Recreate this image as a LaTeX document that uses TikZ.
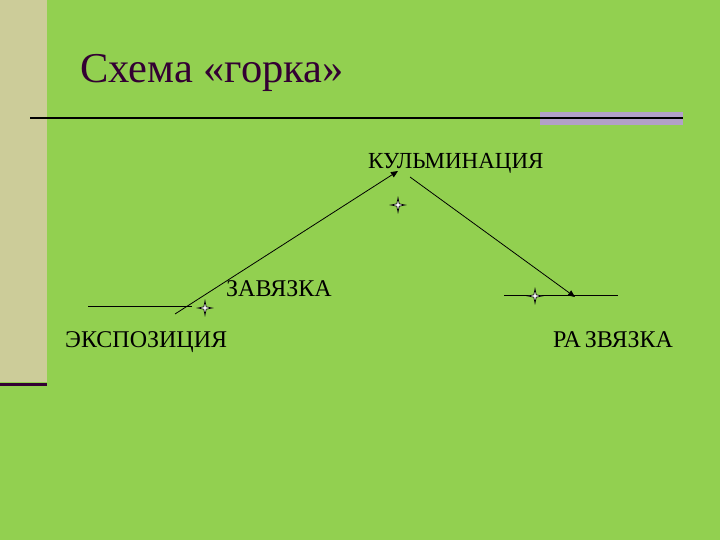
\documentclass[tikz,border=0pt]{standalone}
\usepackage{fontspec}
\setmainfont{Liberation Serif}
\usetikzlibrary{arrows.meta,shapes.geometric}
\definecolor{slidegreen}{HTML}{92D050}
\definecolor{stripbeige}{HTML}{CCCC99}
\definecolor{darkplum}{HTML}{330033}
\definecolor{barlilac}{HTML}{B2A1C7}
\tikzset{
	labl/.style={anchor=base west,inner sep=0pt,font=\rmfamily\fontsize{24}{24}\selectfont},
	ttl/.style={anchor=base west,inner sep=0pt,text=darkplum,font=\rmfamily\fontsize{42.5}{42.5}\selectfont},
	spark/.style={star,star points=4,star point height=5.5pt,minimum size=0pt,inner sep=1.2pt,fill=white,draw=black,line width=0.7pt},
	flat/.style={line width=0.8pt},
	slope/.style={line width=0.8pt,-{Triangle[length=7pt,width=6pt]}},
	>=stealth,
	}

\begin{document}
\begin{tikzpicture}[x=1pt,y=-1pt]
 \fill[slidegreen] (0,0) rectangle (720,540);
 \useasboundingbox (0,0) rectangle (720,540);
 \fill[stripbeige] (0,0) rectangle (47,382);
 \draw[darkplum,line width=3pt] (0,384) -- (47,384);
 \fill[barlilac] (540,112) rectangle (683,125);
 \draw[line width=1.5pt] (30,118) -- (683,118);

\node (title) at (80,83) [ttl] {Схема «горка»};
\node (culm) at (368,169) [labl,font=\rmfamily\fontsize{23}{23}\selectfont] {КУЛЬМИНАЦИЯ};
\node (tie) at (226,296) [labl] {ЗАВЯЗКА};
\node (expo) at (65,347) [labl] {ЭКСПОЗИЦИЯ};
\node (res) at (553,347) [labl] {РА\kern4pt ЗВЯЗКА};

\coordinate (expoL) at (88,306);
\coordinate (expoR) at (192,306);
\coordinate (riseS) at (175,314);
\coordinate (peak) at (398,171);
\coordinate (fallS) at (410,177);
\coordinate (fallE) at (575,297);
\coordinate (resL) at (504,295);
\coordinate (resR) at (618,295);

 \draw[flat] (expoL) -- (expoR);
 \draw[flat] (resL) -- (resR);
 \draw[slope] (riseS) -- (peak);
 \draw[slope] (fallS) -- (fallE);

\node (s1) at (205,308) [spark] {};
\node (s2) at (398,205) [spark] {};
\node (s3) at (535,296) [spark] {};
\end{tikzpicture}
\end{document}
